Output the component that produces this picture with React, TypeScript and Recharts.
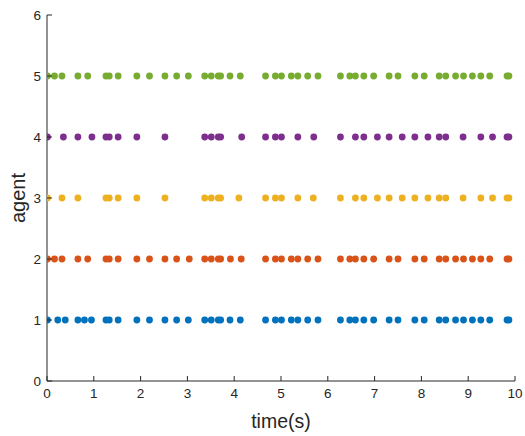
import { ScatterChart, Scatter, XAxis, YAxis } from "recharts"

// spike times (s) per agent
const agent1 = [0.01, 0.23, 0.39, 0.66, 0.8, 0.95, 1.26, 1.33, 1.52, 1.92, 2.19, 2.52, 2.77, 3.02, 3.37, 3.51, 3.66, 3.71, 3.91, 4.13, 4.67, 4.88, 5.01, 5.22, 5.36, 5.57, 5.79, 6.27, 6.47, 6.59, 6.77, 6.98, 7.31, 7.5, 7.86, 8.06, 8.38, 8.52, 8.73, 8.9, 9.09, 9.27, 9.46, 9.83, 9.87]
const agent2 = [0.01, 0.16, 0.32, 0.66, 0.87, 1.26, 1.33, 1.52, 1.92, 2.19, 2.52, 2.77, 3.04, 3.37, 3.51, 3.66, 3.71, 3.92, 4.15, 4.67, 4.88, 5.01, 5.22, 5.36, 5.57, 5.79, 6.27, 6.47, 6.59, 6.77, 6.98, 7.31, 7.5, 7.86, 8.06, 8.38, 8.52, 8.73, 8.9, 9.09, 9.27, 9.46, 9.83, 9.87]
const agent3 = [0.01, 0.32, 0.66, 1.26, 1.33, 1.52, 1.92, 2.52, 3.37, 3.51, 3.66, 3.71, 4.1, 4.67, 4.88, 5.01, 5.36, 5.69, 6.27, 6.59, 6.77, 7.06, 7.31, 7.59, 7.86, 8.14, 8.38, 8.52, 8.89, 9.27, 9.52, 9.83, 9.87]
const agent4 = [0.01, 0.35, 0.66, 0.96, 1.26, 1.33, 1.52, 1.92, 2.52, 3.37, 3.51, 3.66, 3.71, 4.16, 4.67, 4.88, 5.01, 5.36, 5.7, 6.27, 6.59, 6.77, 7.06, 7.31, 7.59, 7.86, 8.14, 8.38, 8.52, 8.89, 9.27, 9.52, 9.83, 9.87]
const agent5 = [0.01, 0.16, 0.32, 0.66, 0.87, 1.26, 1.33, 1.52, 1.92, 2.19, 2.52, 2.77, 3.02, 3.37, 3.51, 3.66, 3.71, 3.91, 4.13, 4.67, 4.88, 5.01, 5.22, 5.36, 5.57, 5.79, 6.27, 6.47, 6.59, 6.77, 6.98, 7.31, 7.5, 7.86, 8.06, 8.38, 8.52, 8.73, 8.9, 9.09, 9.27, 9.46, 9.83, 9.87]

const agents = [agent1, agent2, agent3, agent4, agent5]
const colors = ["#0072BD", "#D95319", "#EDB120", "#7E2F8E", "#77AC30"]
const xTicks = [0, 1, 2, 3, 4, 5, 6, 7, 8, 9, 10]
const yTicks = [0, 1, 2, 3, 4, 5, 6]

const FONT = "'Liberation Sans', Arial, sans-serif"
const AXIS = "#262626"

const XTick = (props: any) => {
  const { x, y, payload } = props
  return (
    <g>
      <line x1={x} x2={x} y1={y} y2={y - 5} stroke={AXIS} strokeWidth={1} />
      <text x={x} y={y + 17} textAnchor="middle" fontSize={13.5} fill={AXIS} fontFamily={FONT}>
        {payload.value}
      </text>
    </g>
  )
}

const YTick = (props: any) => {
  const { x, y, payload } = props
  return (
    <g>
      <line x1={x} x2={x + 5} y1={y} y2={y} stroke={AXIS} strokeWidth={1} />
      <text x={x - 6} y={y + 4.5} textAnchor="end" fontSize={13.5} fill={AXIS} fontFamily={FONT}>
        {payload.value}
      </text>
    </g>
  )
}

const Dot = (props: any) => <circle cx={props.cx} cy={props.cy} r={3.4} fill={props.fill} />

export default function App() {
  return (
    <div style={{ position: "absolute", left: 0, top: 0, background: "#fff" }}>
      <ScatterChart width={525} height={436} margin={{ top: 15, right: 10, left: 0, bottom: 0 }}>
        <XAxis
          type="number"
          dataKey="t"
          domain={[0, 10]}
          ticks={xTicks}
          height={55}
          tickSize={0}
          tickMargin={0}
          tick={<XTick />}
          stroke={AXIS}
          allowDataOverflow
          label={{ value: "time(s)", position: "insideBottom", offset: 8, fontSize: 19.5, fill: AXIS, fontFamily: FONT }}
        />
        <YAxis
          type="number"
          dataKey="agent"
          domain={[0, 6]}
          ticks={yTicks}
          width={47}
          tickSize={0}
          tickMargin={0}
          tick={<YTick />}
          stroke={AXIS}
          label={{ value: "agent", angle: -90, position: "insideLeft", offset: 18, fontSize: 20, fill: AXIS, fontFamily: FONT, style: { textAnchor: "middle" } }}
        />
        {agents.map((times, i) => (
          <Scatter
            key={i}
            data={times.map((t) => ({ t, agent: i + 1 }))}
            fill={colors[i]}
            shape={<Dot />}
            isAnimationActive={false}
          />
        ))}
      </ScatterChart>
    </div>
  )
}
